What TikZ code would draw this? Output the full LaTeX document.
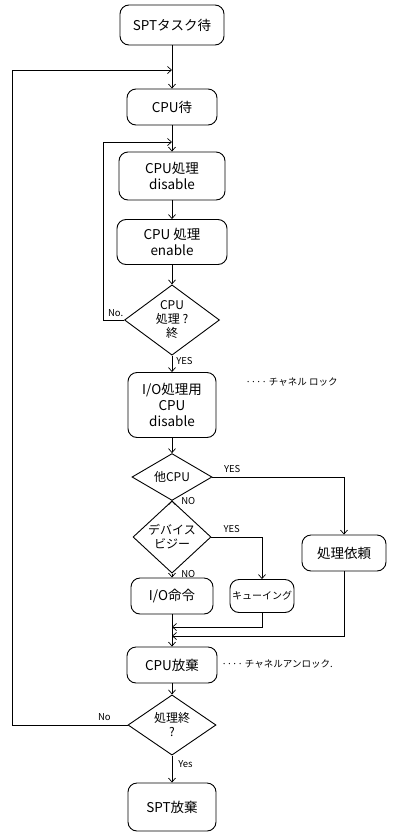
\documentclass[tikz,border=0pt]{standalone}
\usepackage{fontspec}
\usepackage{tikz}
\usetikzlibrary{shapes.geometric, arrows.meta, positioning, calc}
\newfontfamily\jpfont{Noto Sans CJK JP}

\begin{document}
\begin{tikzpicture}[
    x=1pt, y=-1pt,
    >={Straight Barb[length=4pt, width=7pt]},
    box/.style={
        draw=black,
        line width=0.9pt,
        rounded corners=9pt,
        align=center,
        inner sep=2pt,
        font=\jpfont\fontsize{13.5}{16}\selectfont
    },
    decision/.style={
        draw=black,
        line width=0.9pt,
        diamond,
        align=center,
        inner sep=0pt,
        font=\jpfont\fontsize{12}{14}\selectfont
    },
    every edge/.style={draw=black, line width=0.7pt, ->},
    flow/.style={draw=black, line width=0.7pt},
    lbl/.style={font=\jpfont\fontsize{9.5}{11}\selectfont, inner sep=1pt},
    note/.style={font=\jpfont\fontsize{9.5}{11}\selectfont, anchor=west}
]
\useasboundingbox (0,0) rectangle (392,833);

\node[box, minimum width=104pt, minimum height=40pt] (start) at (172,25) {SPTタスク待};
\node[box, minimum width=90pt, minimum height=36pt] (cpuwait) at (172,107) {CPU待};
\node[box, minimum width=106pt, minimum height=48pt] (dis) at (172,176) {CPU処理\\disable};
\node[box, minimum width=110pt, minimum height=45pt] (ena) at (172,242) {CPU 処理\\enable};
\node[decision, minimum width=95pt, minimum height=65pt] (endq) at (172,320) {CPU\\処理 ?\\終};
\node[box, minimum width=88pt, minimum height=65pt] (iodis) at (172,405) {I/O処理用\\CPU\\disable};
\node[decision, minimum width=80pt, minimum height=45pt] (other) at (172,477) {他CPU};
\node[decision, minimum width=78pt, minimum height=60pt] (busy) at (172,537) {デバイス\\ビジー};
\node[box, minimum width=82pt, minimum height=36pt] (ioc) at (172,596) {I/O命令};
\node[box, minimum width=56pt, minimum height=33pt, font=\jpfont\fontsize{10}{12}\selectfont] (queue) at (262,596) {キューイング};
\node[box, minimum width=84pt, minimum height=36pt] (req) at (344,553) {処理依頼};
\node[box, minimum width=90pt, minimum height=36pt] (free) at (172,665) {CPU放棄};
\node[decision, minimum width=88pt, minimum height=54pt] (fin) at (172,725) {処理終\\?};
\node[box, minimum width=88pt, minimum height=48pt] (spt) at (172,807) {SPT放棄};

\node[note] (lock) at (242,382) {···· チャネル ロック};
\node[note] (unlock) at (218,664) {···· チャネルアンロック.};

\coordinate (m1) at (172,70);
\coordinate (m2) at (172,142);
\coordinate (m3) at (172,627);
\coordinate (m4) at (172,636);

\draw[flow] (start) -- (m1);
\path (m1) edge (cpuwait);
\draw[flow] (cpuwait) -- (m2);
\path (m2) edge (dis);
\path (dis) edge (ena);
\path (ena) edge (endq);
\path (endq) edge node[lbl, right=3pt, pos=0.3] {YES} (iodis);
\path (iodis) edge (other);
\path (other) edge node[lbl, right=8pt, pos=0.1] {NO} (busy);
\path (busy) edge node[lbl, right=8pt, pos=0.1] {NO} (ioc);
\path (ioc) edge (free);
\path (free) edge (fin);
\path (fin) edge node[lbl, right=5pt, pos=0.3] {Yes} (spt);

\draw[flow, ->] (endq.west) -- node[lbl, above=2pt, pos=0.4] {No.} (103,320) -- (103,142) -- (m2);
\draw[flow, ->] (fin.west) -- node[lbl, above=3pt, pos=0.2] {No} (12,725) -- (12,70) -- (m1);

\draw[flow, ->] (other.east) -- node[lbl, above=3pt, pos=0.15] {YES} (req.north |- other.east) -- (req.north);
\draw[flow, ->] (busy.east) -- node[lbl, above=3pt, pos=0.4] {YES} (queue.north |- busy.east) -- (queue.north);
\draw[flow, ->] (queue.south) -- (queue.south |- m3) -- (m3);
\draw[flow, ->] (req.south) -- (req.south |- m4) -- (m4);
\end{tikzpicture}
\end{document}
